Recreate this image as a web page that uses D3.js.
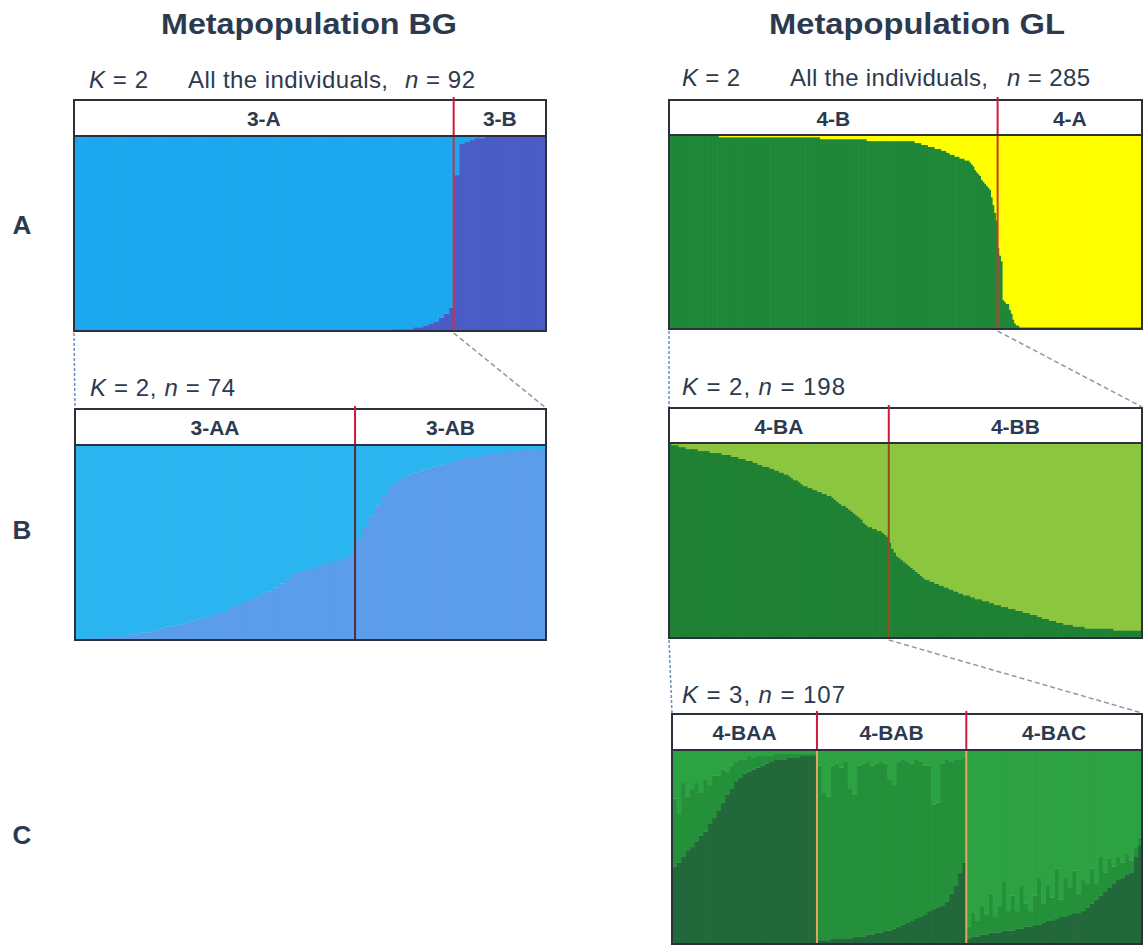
<!DOCTYPE html>
<html>
<head>
<meta charset="utf-8">
<script src="https://cdn.jsdelivr.net/npm/d3@7"></script>
<style>
  body { margin: 0; background: #fff; }
  svg { font-family: "Liberation Sans", Arial, sans-serif; }
</style>
</head>
<body>
<div id="chart"></div>
<script>
// ancestry proportions (%) per individual

// BG, K=2, all individuals (n=92): light blue share
const bgA_light = [
  100,100,100,100,100,100,100,100,100,100,100,100,100,100,100,100,100,100,100,100,
  100,100,100,100,100,100,100,100,100,100,100,100,100,100,100,100,100,100,100,100,
  100,100,100,100,100,100,100,100,100,100,100,100,100,100,100,100,100,100,100,100,
  100,100,99,99,99,99,98,98,97,96,95,93,91,88,
  20,4,3,2,1,1,0,0,0,0,0,0,0,0,0,0,0,0
];
const bgA_groups = ["3-A", "3-B"];
const bgA_sizes = [74, 18];

// BG, K=2, n=74: medium blue share
const bgB_blue = [
  0,0,1,1,1,2, 2,2,3,3,4,4,5,6, 7,7,8,9,10,11,12,13, 14,15,17,18,20,
  21,22,24,25, 27,29,31,34, 35,36,37,38,39, 40,41,42,44,
  52,58,64,69,74,78, 81,83,85,86,87,88, 89,90,91,92,93,
  94,94,95,95,96, 96,97,97,97,98,98,98,98
];
const bgB_groups = ["3-AA", "3-AB"];
const bgB_sizes = [44, 30];

// GL, K=2, all individuals (n=285): dark green share
const glA_green = [
  100,100,100,100,100,100,100,100,100,100,100,100,100,100,100,100,100,100,100,100,
  100,100,100,100,100,100,100,100,100,100,
  99,99,99,99,99,99,99,99,99,99,99,99,99,99,99,99,99,99,99,99,
  99,99,99,99,99,99,99,99,99,99,99,99,99,99,99,99,99,99,99,99,
  99,99,99,99,99,99,99,99,99,99,99,99,99,99,99,99,99,99,99,99,99,
  98,98,98,98,98,98,98,98,98,98,98,98,98,98,98,98,98,98,98,98,98,98,98,98,98,98,98,98,
  97,97,97,97,97,97,97,97,97,97,97,97,97,97,97,97,97,97,97,97,97,97,97,97,97,97,97,97,
  97,96,96,96,96,95,95,95,95,94,94,94,94,93,93,93,93,92,92,
  92,91,91,90,90,90,89,89,89,88,
  88,88,87,87,87,86,85,84,
  82,81,80,79,
  77,76,75,74,73,72,
  68,64,60,56,
  42,38,35,15,14,13,13,10,8,5,3,2,2,1,
  1,1,1,1,1,1,1,1,1,1,1,1,1,1,1,1,1,1,1,1,
  1,1,1,1,1,1,1,1,1,1,1,1,1,1,1,1,1,1,1,1,
  1,1,1,1,1,1,1,1,1,1,1,1,1,1,1,1,1,1,1,1,
  1,1,1,1,1,1,1,1,1,1,1,1,1
];
const glA_groups = ["4-B", "4-A"];
const glA_sizes = [198, 87];

// GL, K=2, n=198: dark green share
const glB_dark = [
  100,99,99,99,98,98,98,97,97,97,
  97,97,96,96,96,96,96,95,95,95,95,95,94,94,94,
  94,93,93,93,92,92,92,91,91,91,90,90,89,89,
  88,88,88,87,87,86,86,85,85,84,84,
  83,82,81,81,80,79,78,78,77,
  77,76,76,75,75,74,74,73,73,72,
  71,70,69,68,68,67,66,65,
  64,63,62,61,59,58,
  57,57,56,56,55,55,54,53,52,
  49,46,44,42,41,40,39,38,37,
  36,35,34,33,32,31,30,
  30,29,29,28,28,27,27,26,26,25,25,24,24,23,
  23,22,22,22,21,21,20,20,20,19,19,19,18,18,
  17,17,17,16,16,16,15,15,15,14,14,14,13,13,
  13,12,12,12,11,11,10,10,10,9,9,9,8,8,
  8,7,7,7,7,6,6,6,6,6,5,5,5,5,
  5,5,5,5,5,5,5,5,4,4,4,4,4,4,4,4,4,4,4,4
];
const glB_groups = ["4-BA", "4-BB"];
const glB_sizes = [92, 106];

// GL, K=3, n=107: dark and medium shares (bright = rest)
const glC_dark = [
  40,42,45,48,50, 53,56,58,62,65,69, 73,77,80,84, 86,88,89,90, 91,92,93,94,
  95,95,95,96,96,96,97,97,97,97,
  2,2,2,3,3,3,3,3,4,4,4,5,5,6, 6,7,7,8,9,10,11,12,13, 14,15,17,18,19,20,22, 26,30,37,42,
  3,4,4,5, 5,6,6,6,7,7,7,8,8,9,9, 10,10,11,12,12,13,14,14,15,16,16,17,
  19,21,23,25,27,29,31, 33,34,36,37, 45,51
];
const glC_mid = [
  35,25,38,28,30, 30,22,27,20,22,18, 17,12,12,10, 9,7,8,6, 6,5,4,3,
  3,3,3,2,2,2,1,1,1,1,
  90,76,74,89,90,88,91,77,73,88,89,89,87,87, 88,86,78,74,85,85,83,81,82,
  80,77,75,54,54,73,73, 68,65,58,54,
  6,12,8,15, 10,20,8,14,25,10,18,9,22,12,8, 15,24,10,18,12,26,9,20,14,22,10,16,
  12,18,8,20,10,15,9, 12,8,10,6, 5,4
];
const glC_groups = ["4-BAA", "4-BAB", "4-BAC"];
const glC_sizes = [33, 34, 40];

const titles = ["Metapopulation BG", "Metapopulation GL"];
const rowLabels = ["A", "B", "C"];

const W = 1143, H = 946;
const ink = "#2c3a50";

const svg = d3.select("#chart").append("svg")
  .attr("width", W).attr("height", H);

// panels
const panels = {
  bgA: { x0: 74, x1: 546, top: 100, head: 136, bottom: 331,
         rows: bgA_light.map(v => ({ a: 100 - v, b: v })),
         colors: ["#4b5cc6", "#1ca8ef"], groups: bgA_groups, sizes: bgA_sizes,
         divPlot: "#c8304a" },
  bgB: { x0: 75, x1: 546, top: 409, head: 445, bottom: 640,
         rows: bgB_blue.map(v => ({ a: v, b: 100 - v })),
         colors: ["#5b9ceb", "#2ab5f0"], groups: bgB_groups, sizes: bgB_sizes,
         divPlot: "#5a2a3a" },
  glA: { x0: 669, x1: 1142, top: 100, head: 135, bottom: 329,
         rows: glA_green.map(v => ({ a: v, b: 100 - v })),
         colors: ["#1f8838", "#ffff00"], groups: glA_groups, sizes: glA_sizes,
         divPlot: "#c83a30" },
  glB: { x0: 669, x1: 1142, top: 408, head: 443, bottom: 638,
         rows: glB_dark.map(v => ({ a: v, b: 100 - v })),
         colors: ["#1f8133", "#8cc63f"], groups: glB_groups, sizes: glB_sizes,
         divPlot: "#9a4a22" },
  glC: { x0: 672, x1: 1142, top: 714, head: 750, bottom: 944,
         rows: glC_dark.map((v, i) => ({ a: v, b: glC_mid[i], c: 100 - v - glC_mid[i] })),
         colors: ["#22683a", "#24903a", "#2da243"], groups: glC_groups, sizes: glC_sizes,
         divPlot: "#e0a860" }
};

function drawPanel(p) {
  const n = p.rows.length;
  const keys = Object.keys(p.rows[0]);
  const x = d3.scaleBand().domain(d3.range(n)).range([p.x0, p.x1]);
  const y = d3.scaleLinear().domain([0, 100]).range([p.bottom, p.head]);
  const series = d3.stack().keys(keys)(p.rows);
  const g = svg.append("g");

  g.selectAll("g.layer")
    .data(series)
    .join("g")
    .attr("class", "layer")
    .attr("fill", (d, i) => p.colors[i])
    .selectAll("rect")
    .data(d => d)
    .join("rect")
    .attr("x", (d, i) => x(i))
    .attr("width", x.bandwidth() + 0.7)
    .attr("y", d => y(d[1]))
    .attr("height", d => Math.max(0, y(d[0]) - y(d[1]) + 0.3));

  // header box
  g.append("rect")
    .attr("x", p.x0).attr("y", p.top)
    .attr("width", p.x1 - p.x0).attr("height", p.head - p.top)
    .attr("fill", "#fff").attr("stroke", "#2b303c").attr("stroke-width", 2);

  const cuts = d3.cumsum(p.sizes);
  const edges = [p.x0].concat(Array.from(cuts).map(c => c < n ? x(c) : p.x1));
  p.edges = edges;

  g.selectAll("text.grp")
    .data(p.groups)
    .join("text")
    .attr("class", "grp")
    .attr("x", (d, i) => (edges[i] + edges[i + 1]) / 2)
    .attr("y", p.top + 26)
    .attr("text-anchor", "middle")
    .attr("font-weight", "bold")
    .attr("font-size", 21)
    .attr("fill", ink)
    .text(d => d);

  // group dividers
  const inner = edges.slice(1, -1);
  g.selectAll("line.divh")
    .data(inner)
    .join("line")
    .attr("x1", d => d).attr("x2", d => d)
    .attr("y1", p.top - 3).attr("y2", p.head)
    .attr("stroke", "#d0183a").attr("stroke-width", 2);
  g.selectAll("line.divp")
    .data(inner)
    .join("line")
    .attr("x1", d => d).attr("x2", d => d)
    .attr("y1", p.head).attr("y2", p.bottom)
    .attr("stroke", p.divPlot).attr("stroke-width", 2);

  // frame
  g.append("rect")
    .attr("x", p.x0).attr("y", p.head)
    .attr("width", p.x1 - p.x0).attr("height", p.bottom - p.head)
    .attr("fill", "none").attr("stroke", "#2b303c").attr("stroke-width", 2);
}

Object.values(panels).forEach(drawPanel);

// dashed connectors from a parent cluster to its sub-analysis
function connect(parent, child, groupIdx) {
  const left = parent.edges[groupIdx], right = parent.edges[groupIdx + 1];
  const line = d3.line();
  svg.append("path")
    .attr("d", line([[left, parent.bottom + 2], [child.x0, child.top - 1]]))
    .attr("fill", "none").attr("stroke", "#6f8fbf")
    .attr("stroke-width", 1.5).attr("stroke-dasharray", "3,2");
  svg.append("path")
    .attr("d", line([[right, parent.bottom + 2], [child.x1, child.top - 1]]))
    .attr("fill", "none").attr("stroke", "#8d99a8")
    .attr("stroke-width", 1.5).attr("stroke-dasharray", "5,3");
}
connect(panels.bgA, panels.bgB, 0);
connect(panels.glA, panels.glB, 0);
connect(panels.glB, panels.glC, 0);

// titles
svg.selectAll("text.title")
  .data(titles)
  .join("text")
  .attr("class", "title")
  .attr("x", (d, i) => [309, 917][i])
  .attr("y", 34)
  .attr("text-anchor", "middle")
  .attr("font-weight", "bold")
  .attr("font-size", 29)
  .attr("textLength", 296)
  .attr("lengthAdjust", "spacingAndGlyphs")
  .attr("fill", ink)
  .text(d => d);

// row labels
svg.selectAll("text.row")
  .data(rowLabels)
  .join("text")
  .attr("class", "row")
  .attr("x", 22)
  .attr("y", (d, i) => [234, 539, 844][i])
  .attr("text-anchor", "middle")
  .attr("font-weight", "bold")
  .attr("font-size", 26)
  .attr("fill", ink)
  .text(d => d);

// K / n captions: [text, italic] parts, stretched to the width seen in the figure
function caption(x, y, len, parts) {
  const t = svg.append("text").attr("x", x).attr("y", y)
    .attr("font-size", 24).attr("fill", ink)
    .attr("textLength", len).attr("lengthAdjust", "spacing");
  parts.forEach(([s, it]) => {
    t.append("tspan").attr("font-style", it ? "italic" : "normal").text(s);
  });
}
caption(89, 88, 59, [["K", 1], [" = 2", 0]]);
caption(188, 88, 200, [["All the individuals,", 0]]);
caption(405, 88, 70, [["n", 1], [" = 92", 0]]);
caption(682, 86, 58, [["K", 1], [" = 2", 0]]);
caption(790, 86, 198, [["All the individuals,", 0]]);
caption(1007, 86, 83, [["n", 1], [" = 285", 0]]);
caption(90, 396, 145, [["K", 1], [" = 2, ", 0], ["n", 1], [" = 74", 0]]);
caption(682, 395, 163, [["K", 1], [" = 2, ", 0], ["n", 1], [" = 198", 0]]);
caption(682, 703, 163, [["K", 1], [" = 3, ", 0], ["n", 1], [" = 107", 0]]);
</script>
</body>
</html>
